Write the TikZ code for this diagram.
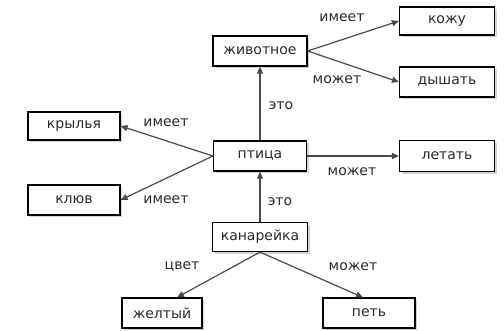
\documentclass[tikz,border=0pt]{standalone}
\usepackage{fontspec}
\setmainfont{DejaVu Sans}
\usetikzlibrary{shadows,arrows.meta,calc}
\definecolor{txt}{HTML}{2A2A2A}
\definecolor{ln}{HTML}{4A4A4A}
\tikzset{
  box/.style={draw=black, line width=1.2pt, fill=white, minimum height=30pt, text=txt,
    font=\fontsize{14}{16}\selectfont, inner sep=0pt,
    drop shadow={shadow xshift=2pt, shadow yshift=-2pt, opacity=0.35, fill=gray}},
  arr/.style={draw=ln, line width=1.2pt, -{Triangle[length=7pt,width=6pt]}},
  lbl/.style={text=txt, font=\fontsize{14}{16}\selectfont, inner sep=0pt}
}
\begin{document}
\begin{tikzpicture}[x=1pt,y=-1pt]
\useasboundingbox (0,0) rectangle (504,330);
\node[box, minimum width=94pt] (zhiv) at (260,51) {животное};
\node[box, minimum width=95pt, minimum height=28pt] (kozhu) at (447,21) {кожу};
\node[box, minimum width=95pt] (dysh) at (447,82) {дышать};
\node[box, minimum width=92pt, minimum height=28pt] (kryl) at (74,126) {крылья};
\node[box, minimum width=92pt] (klyuv) at (74,200) {клюв};
\node[box, minimum width=93pt] (ptica) at (260,156) {птица};
\node[box, minimum width=95pt, minimum height=31pt] (let) at (447,156) {летать};
\node[box, minimum width=95pt, minimum height=29pt] (kan) at (260,237) {канарейка};
\node[box, minimum width=80pt] (zhelt) at (162,313) {желтый};
\node[box, minimum width=92pt] (pet) at (369,313) {петь};

\draw[arr] (ptica.north) -- (zhiv.south);
\draw[arr] (kan.north) -- (ptica.south);
\draw[arr] (zhiv.east) -- (kozhu.west);
\draw[arr] (zhiv.east) -- (dysh.west);
\draw[arr] (ptica.west) -- (kryl.east);
\draw[arr] (ptica.west) -- (klyuv.east);
\draw[arr] (ptica.east) -- (let.west);
\draw[arr] (kan.south) -- ($(zhelt.north)+(15,0)$);
\draw[arr] (kan.south) -- ($(pet.north)+(-6,0)$);

\node[lbl] (l1) at (342,18) {имеет};
\node[lbl] (l2) at (337,80) {может};
\node[lbl] (l3) at (281,106) {это};
\node[lbl] (l4) at (166,123) {имеет};
\node[lbl] (l5) at (166,200) {имеет};
\node[lbl] (l6) at (352,172) {может};
\node[lbl] (l7) at (280,202) {это};
\node[lbl] (l8) at (182,267) {цвет};
\node[lbl] (l9) at (353,267) {может};
\end{tikzpicture}
\end{document}
